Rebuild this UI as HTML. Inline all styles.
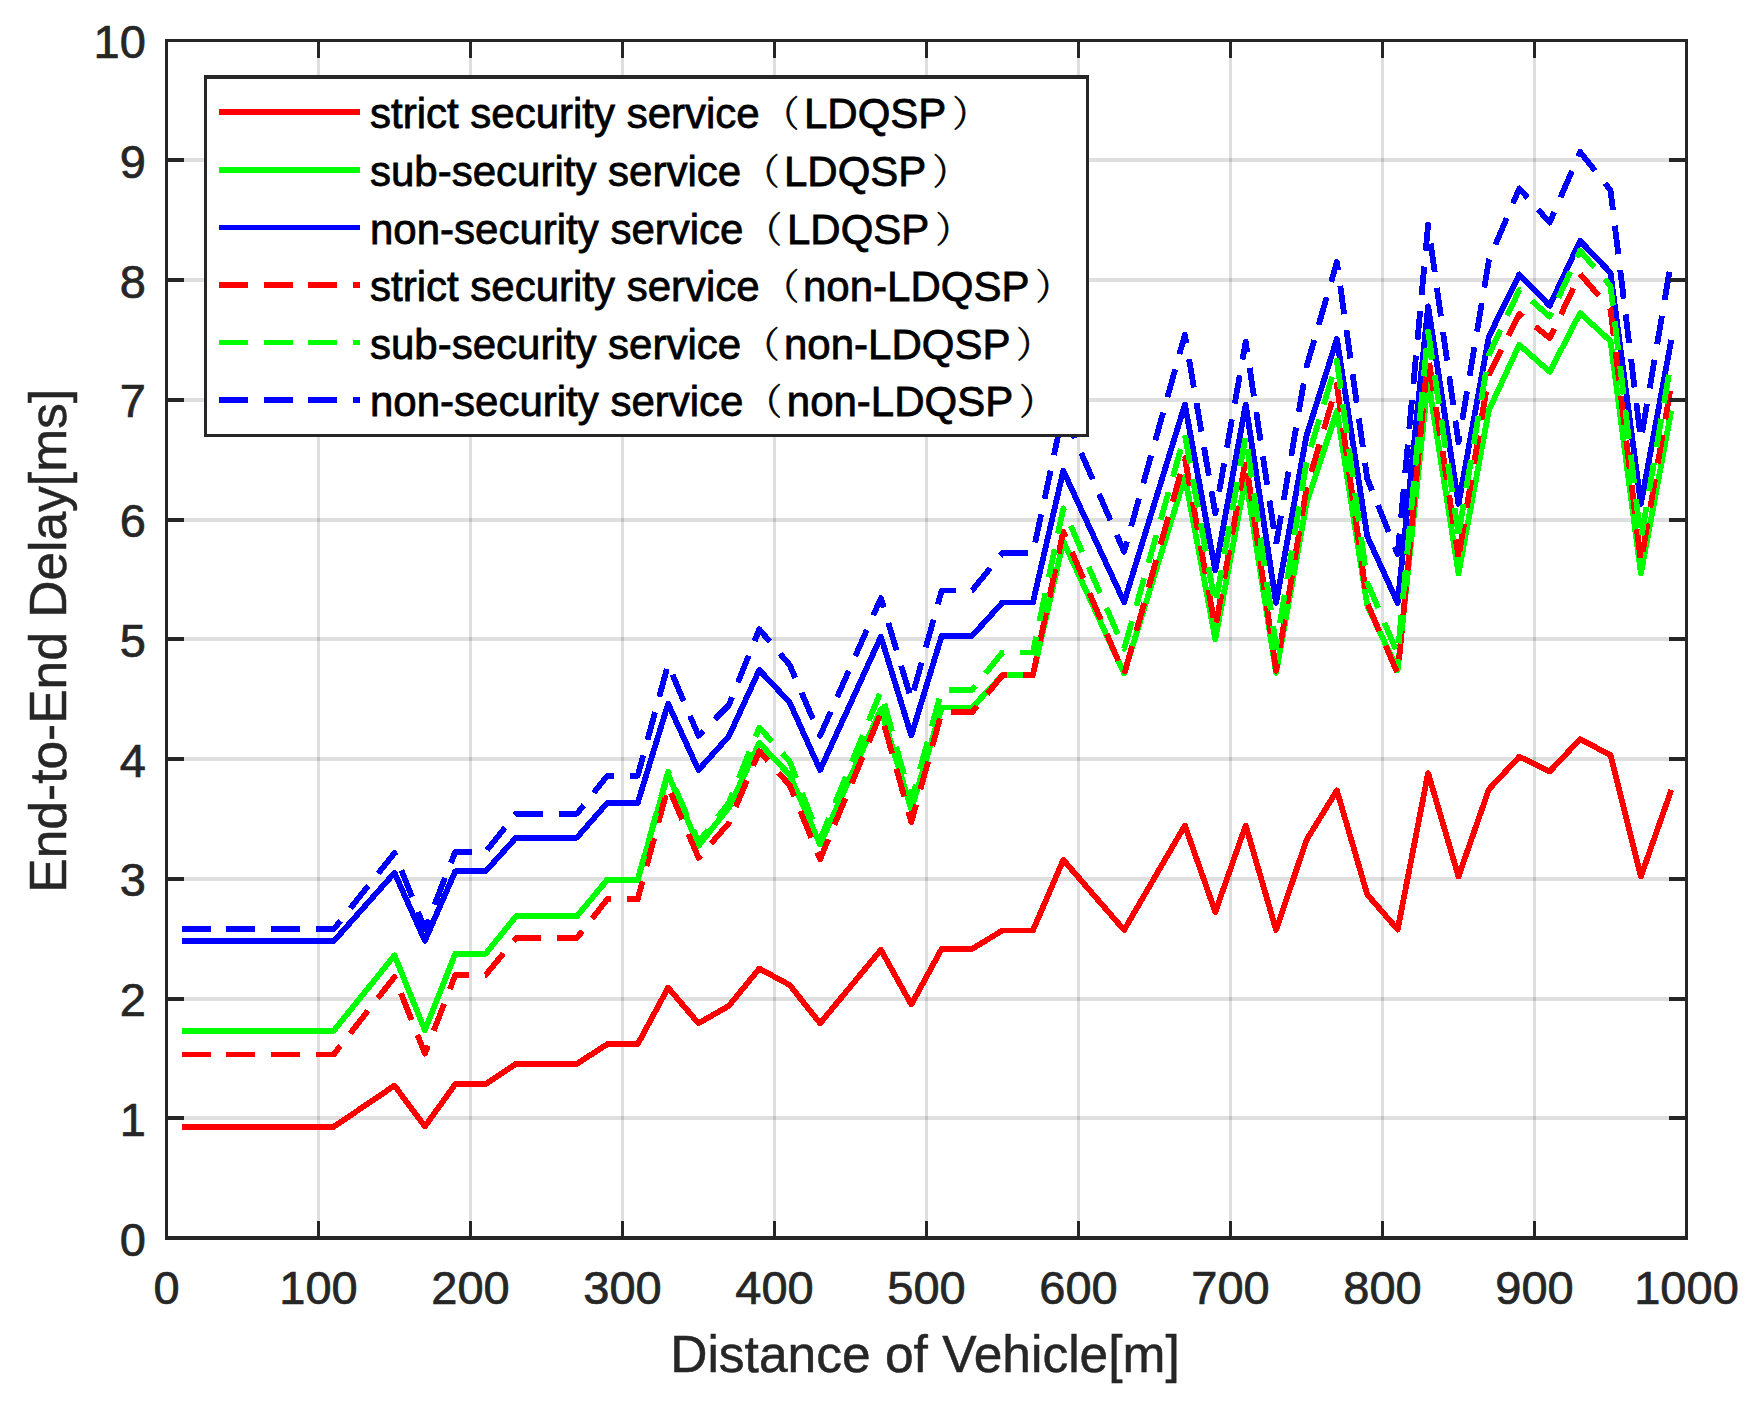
<!DOCTYPE html>
<html lang="en">
<head>
<meta charset="utf-8">
<title>End-to-End Delay vs Distance of Vehicle</title>
<style>
html,body{margin:0;padding:0;background:#fff;}
svg{display:block;}
text{font-family:"Liberation Sans","Noto Sans CJK SC",sans-serif;}
.tick{font-size:47px;fill:#262626;stroke:#262626;stroke-width:0.7px;}
.lab{font-size:51.5px;fill:#262626;stroke:#262626;stroke-width:0.5px;}
.leg{font-size:42px;fill:#000;stroke:#000;stroke-width:0.8px;}
.cjk{font-family:"Noto Serif CJK SC","Noto Sans CJK SC",serif;font-size:36px;stroke-width:0.6px;}
</style>
</head>
<body>
<svg width="1759" height="1413" viewBox="0 0 1759 1413">
<rect x="0" y="0" width="1759" height="1413" fill="#ffffff"/>
<g stroke="#262626" stroke-opacity="0.15" stroke-width="3" shape-rendering="crispEdges">
<line x1="318.5" y1="40.5" x2="318.5" y2="1238.0"/>
<line x1="470.5" y1="40.5" x2="470.5" y2="1238.0"/>
<line x1="622.5" y1="40.5" x2="622.5" y2="1238.0"/>
<line x1="774.5" y1="40.5" x2="774.5" y2="1238.0"/>
<line x1="926.5" y1="40.5" x2="926.5" y2="1238.0"/>
<line x1="1078.5" y1="40.5" x2="1078.5" y2="1238.0"/>
<line x1="1230.5" y1="40.5" x2="1230.5" y2="1238.0"/>
<line x1="1382.5" y1="40.5" x2="1382.5" y2="1238.0"/>
<line x1="1534.5" y1="40.5" x2="1534.5" y2="1238.0"/>
<line stroke-width="4" x1="166.5" y1="1118.25" x2="1686.5" y2="1118.25"/>
<line stroke-width="4" x1="166.5" y1="998.50" x2="1686.5" y2="998.50"/>
<line stroke-width="4" x1="166.5" y1="878.75" x2="1686.5" y2="878.75"/>
<line stroke-width="4" x1="166.5" y1="759.00" x2="1686.5" y2="759.00"/>
<line stroke-width="4" x1="166.5" y1="639.25" x2="1686.5" y2="639.25"/>
<line stroke-width="4" x1="166.5" y1="519.50" x2="1686.5" y2="519.50"/>
<line stroke-width="4" x1="166.5" y1="399.75" x2="1686.5" y2="399.75"/>
<line stroke-width="4" x1="166.5" y1="280.00" x2="1686.5" y2="280.00"/>
<line stroke-width="4" x1="166.5" y1="160.25" x2="1686.5" y2="160.25"/>
</g>
<g fill="none" stroke-linejoin="round" stroke-linecap="butt" shape-rendering="crispEdges">
<polyline stroke="#ff0000" stroke-width="5.8" points="181.7,1126.8 212.1,1126.8 242.5,1126.8 272.9,1126.8 303.3,1126.8 333.7,1126.8 364.1,1106.2 394.5,1085.6 424.9,1126.4 455.3,1084.2 485.7,1084.2 516.1,1063.8 546.5,1063.8 576.9,1063.8 607.3,1044.2 637.7,1044.2 668.1,987.7 698.5,1023.3 728.9,1005.8 759.3,968.6 789.7,985.0 820.1,1023.3 850.5,986.5 880.9,949.8 911.3,1004.5 941.7,948.8 972.1,948.8 1002.5,930.5 1032.9,930.5 1063.3,859.9 1093.7,895.0 1124.1,930.0 1154.5,877.7 1184.9,825.5 1215.3,912.0 1245.7,825.5 1276.1,930.0 1306.5,840.0 1336.9,790.5 1367.3,894.6 1397.7,929.5 1428.1,773.0 1458.5,876.5 1488.9,789.3 1519.3,756.7 1549.7,771.5 1580.1,739.2 1610.5,755.0 1640.9,876.5 1671.3,790.0"/>
<polyline stroke="#00ff00" stroke-width="5.8" points="181.7,1030.7 212.1,1030.7 242.5,1030.7 272.9,1030.7 303.3,1030.7 333.7,1030.7 364.1,993.1 394.5,955.4 424.9,1030.2 455.3,953.7 485.7,953.7 516.1,916.2 546.5,916.2 576.9,916.2 607.3,879.9 637.7,879.9 668.1,774.2 698.5,845.7 728.9,807.5 759.3,743.0 789.7,775.0 820.1,844.5 850.5,776.9 880.9,709.3 911.3,809.5 941.7,707.5 972.1,707.5 1002.5,675.2 1032.9,675.2 1063.3,541.4 1093.7,607.3 1124.1,673.3 1154.5,575.1 1184.9,476.9 1215.3,639.2 1245.7,477.6 1276.1,672.8 1306.5,503.2 1336.9,411.1 1367.3,605.7 1397.7,669.8 1428.1,379.4 1458.5,573.4 1488.9,410.0 1519.3,344.8 1549.7,371.8 1580.1,313.1 1610.5,341.1 1640.9,573.4 1671.3,410.5"/>
<polyline stroke="#0000ff" stroke-width="5.8" points="181.7,941.3 212.1,941.3 242.5,941.3 272.9,941.3 303.3,941.3 333.7,941.3 364.1,907.0 394.5,872.8 424.9,940.7 455.3,871.2 485.7,871.2 516.1,837.6 546.5,837.6 576.9,837.6 607.3,802.9 637.7,802.9 668.1,703.8 698.5,770.0 728.9,736.2 759.3,670.0 789.7,702.5 820.1,770.0 850.5,703.4 880.9,636.7 911.3,735.5 941.7,635.8 972.1,635.8 1002.5,602.5 1032.9,602.5 1063.3,470.8 1093.7,536.4 1124.1,602.1 1154.5,503.3 1184.9,404.5 1215.3,570.3 1245.7,404.5 1276.1,603.0 1306.5,435.7 1336.9,339.0 1367.3,536.3 1397.7,603.0 1428.1,306.3 1458.5,503.9 1488.9,336.5 1519.3,274.4 1549.7,305.7 1580.1,240.8 1610.5,272.8 1640.9,503.9 1671.3,339.9"/>
<polyline stroke="#ff0000" stroke-width="5.8" stroke-dasharray="28.8 15.9" points="181.7,1054.5 212.1,1054.5 242.5,1054.5 272.9,1054.5 303.3,1054.5 333.7,1054.5 364.1,1015.7 394.5,976.9 424.9,1053.6 455.3,975.0 485.7,975.0 516.1,938.0 546.5,938.0 576.9,938.0 607.3,899.2 637.7,899.2 668.1,786.5 698.5,857.8 728.9,823.1 759.3,751.2 789.7,785.3 820.1,859.2 850.5,786.1 880.9,713.0 911.3,822.0 941.7,712.3 972.1,712.3 1002.5,675.2 1032.9,675.2 1063.3,531.5 1093.7,603.0 1124.1,674.6 1154.5,566.4 1184.9,458.2 1215.3,628.1 1245.7,459.6 1276.1,670.9 1306.5,488.4 1336.9,384.8 1367.3,603.3 1397.7,673.6 1428.1,355.4 1458.5,557.2"/>
<polyline stroke="#ff0000" stroke-width="5.8" stroke-dasharray="28.8 15.9" stroke-dashoffset="39.5" points="1458.5,557.2 1488.9,374.6 1519.3,313.9 1549.7,338.1 1580.1,274.0 1610.5,309.2 1640.9,562.6 1671.3,384.2"/>
<polyline stroke="#00ff00" stroke-width="5.8" stroke-dasharray="28.8 15.9" points="181.7,1030.7 212.1,1030.7 242.5,1030.7 272.9,1030.7 303.3,1030.7 333.7,1030.7 364.1,993.1 394.5,955.4 424.9,1030.2 455.3,953.7 485.7,953.7 516.1,916.2 546.5,916.2 576.9,916.2 607.3,879.5 637.7,879.5 668.1,771.8 698.5,842.1 728.9,802.7 759.3,727.5 789.7,761.5 820.1,839.7 850.5,765.5 880.9,691.2 911.3,801.2 941.7,690.0 972.1,690.0 1002.5,652.4 1032.9,652.4 1063.3,508.4 1093.7,578.6 1124.1,648.8 1154.5,541.7 1184.9,434.5 1215.3,604.8 1245.7,435.7 1276.1,646.7 1306.5,461.9 1336.9,360.8 1367.3,582.4 1397.7,654.0 1428.1,331.5 1458.5,533.9"/>
<polyline stroke="#00ff00" stroke-width="5.8" stroke-dasharray="28.8 15.9" stroke-dashoffset="43.2" points="1458.5,533.9 1488.9,354.7 1519.3,289.9 1549.7,316.6 1580.1,250.8 1610.5,286.0 1640.9,539.4 1671.3,360.2"/>
<polyline stroke="#0000ff" stroke-width="5.8" stroke-dasharray="28.8 15.9" points="181.7,929.3 212.1,929.3 242.5,929.3 272.9,929.3 303.3,929.3 333.7,929.3 364.1,891.1 394.5,853.0 424.9,929.0 455.3,851.8 485.7,851.8 516.1,813.7 546.5,813.7 576.9,813.7 607.3,775.8 637.7,775.8 668.1,664.4 698.5,735.8 728.9,705.1 759.3,629.3 789.7,665.0 820.1,735.8 850.5,666.9 880.9,598.1 911.3,699.5 941.7,590.5 972.1,590.5 1002.5,553.0 1032.9,553.0 1063.3,411.7 1093.7,481.7 1124.1,551.7 1154.5,443.3 1184.9,334.8 1215.3,513.5 1245.7,341.7 1276.1,544.4 1306.5,366.8 1336.9,262.0 1367.3,478.8 1397.7,554.2 1428.1,224.9 1458.5,442.3 1488.9,260.0 1519.3,188.4 1549.7,222.6 1580.1,152.0 1610.5,190.2 1640.9,439.9 1671.3,260.8"/>
</g>
<g stroke="#262626" stroke-width="3" shape-rendering="crispEdges">
<line x1="318.5" y1="1238.0" x2="318.5" y2="1220.5"/>
<line x1="318.5" y1="40.5" x2="318.5" y2="58.0"/>
<line x1="470.5" y1="1238.0" x2="470.5" y2="1220.5"/>
<line x1="470.5" y1="40.5" x2="470.5" y2="58.0"/>
<line x1="622.5" y1="1238.0" x2="622.5" y2="1220.5"/>
<line x1="622.5" y1="40.5" x2="622.5" y2="58.0"/>
<line x1="774.5" y1="1238.0" x2="774.5" y2="1220.5"/>
<line x1="774.5" y1="40.5" x2="774.5" y2="58.0"/>
<line x1="926.5" y1="1238.0" x2="926.5" y2="1220.5"/>
<line x1="926.5" y1="40.5" x2="926.5" y2="58.0"/>
<line x1="1078.5" y1="1238.0" x2="1078.5" y2="1220.5"/>
<line x1="1078.5" y1="40.5" x2="1078.5" y2="58.0"/>
<line x1="1230.5" y1="1238.0" x2="1230.5" y2="1220.5"/>
<line x1="1230.5" y1="40.5" x2="1230.5" y2="58.0"/>
<line x1="1382.5" y1="1238.0" x2="1382.5" y2="1220.5"/>
<line x1="1382.5" y1="40.5" x2="1382.5" y2="58.0"/>
<line x1="1534.5" y1="1238.0" x2="1534.5" y2="1220.5"/>
<line x1="1534.5" y1="40.5" x2="1534.5" y2="58.0"/>
<line stroke-width="4" x1="166.5" y1="1118.25" x2="184.0" y2="1118.25"/>
<line stroke-width="4" x1="1686.5" y1="1118.25" x2="1669.0" y2="1118.25"/>
<line stroke-width="4" x1="166.5" y1="998.50" x2="184.0" y2="998.50"/>
<line stroke-width="4" x1="1686.5" y1="998.50" x2="1669.0" y2="998.50"/>
<line stroke-width="4" x1="166.5" y1="878.75" x2="184.0" y2="878.75"/>
<line stroke-width="4" x1="1686.5" y1="878.75" x2="1669.0" y2="878.75"/>
<line stroke-width="4" x1="166.5" y1="759.00" x2="184.0" y2="759.00"/>
<line stroke-width="4" x1="1686.5" y1="759.00" x2="1669.0" y2="759.00"/>
<line stroke-width="4" x1="166.5" y1="639.25" x2="184.0" y2="639.25"/>
<line stroke-width="4" x1="1686.5" y1="639.25" x2="1669.0" y2="639.25"/>
<line stroke-width="4" x1="166.5" y1="519.50" x2="184.0" y2="519.50"/>
<line stroke-width="4" x1="1686.5" y1="519.50" x2="1669.0" y2="519.50"/>
<line stroke-width="4" x1="166.5" y1="399.75" x2="184.0" y2="399.75"/>
<line stroke-width="4" x1="1686.5" y1="399.75" x2="1669.0" y2="399.75"/>
<line stroke-width="4" x1="166.5" y1="280.00" x2="184.0" y2="280.00"/>
<line stroke-width="4" x1="1686.5" y1="280.00" x2="1669.0" y2="280.00"/>
<line stroke-width="4" x1="166.5" y1="160.25" x2="184.0" y2="160.25"/>
<line stroke-width="4" x1="1686.5" y1="160.25" x2="1669.0" y2="160.25"/>
</g>
<g fill="#262626" shape-rendering="crispEdges">
<rect x="165" y="39" width="3" height="1201"/>
<rect x="1685" y="39" width="3" height="1201"/>
<rect x="165" y="39" width="1523" height="3"/>
<rect x="165" y="1236" width="1523" height="4"/>
</g>
<g class="tick" text-anchor="middle">
<text x="166.5" y="1303.5">0</text>
<text x="318.5" y="1303.5">100</text>
<text x="470.5" y="1303.5">200</text>
<text x="622.5" y="1303.5">300</text>
<text x="774.5" y="1303.5">400</text>
<text x="926.5" y="1303.5">500</text>
<text x="1078.5" y="1303.5">600</text>
<text x="1230.5" y="1303.5">700</text>
<text x="1382.5" y="1303.5">800</text>
<text x="1534.5" y="1303.5">900</text>
<text x="1686.5" y="1303.5">1000</text>
</g>
<g class="tick" text-anchor="end">
<text x="145.8" y="1255.6">0</text>
<text x="145.8" y="1135.8">1</text>
<text x="145.8" y="1016.1">2</text>
<text x="145.8" y="896.4">3</text>
<text x="145.8" y="776.6">4</text>
<text x="145.8" y="656.9">5</text>
<text x="145.8" y="537.1">6</text>
<text x="145.8" y="417.4">7</text>
<text x="145.8" y="297.6">8</text>
<text x="145.8" y="177.8">9</text>
<text x="145.8" y="58.1">10</text>
</g>
<text class="lab" text-anchor="middle" x="925" y="1371.6">Distance of Vehicle[m]</text>
<text class="lab" text-anchor="middle" transform="translate(66.1 640.75) rotate(-90)">End-to-End Delay[ms]</text>
<rect x="204" y="75" width="885" height="362" fill="#ffffff"/>
<g fill="#262626" shape-rendering="crispEdges">
<rect x="204" y="75" width="3" height="362"/>
<rect x="1086" y="75" width="3" height="362"/>
<rect x="204" y="75" width="885" height="4"/>
<rect x="204" y="434" width="885" height="3"/>
</g>
<line x1="219" y1="112.0" x2="360" y2="112.0" stroke="#ff0000" stroke-width="6" shape-rendering="crispEdges"/>
<text class="leg" x="370" y="128.0">strict security service<tspan class="cjk" x="763.2" y="127.0">（</tspan><tspan x="804.0" y="128.0">LDQSP</tspan><tspan class="cjk" x="952.4" y="127.0">）</tspan></text>
<line x1="219" y1="170.0" x2="360" y2="170.0" stroke="#00ff00" stroke-width="6" shape-rendering="crispEdges"/>
<text class="leg" x="370" y="186.0">sub-security service<tspan class="cjk" x="743.5" y="185.0">（</tspan><tspan x="784.0" y="186.0">LDQSP</tspan><tspan class="cjk" x="932.5" y="185.0">）</tspan></text>
<line x1="219" y1="227.5" x2="360" y2="227.5" stroke="#0000ff" stroke-width="5" shape-rendering="crispEdges"/>
<text class="leg" x="370" y="243.5">non-security service<tspan class="cjk" x="745.9" y="242.5">（</tspan><tspan x="787.0" y="243.5">LDQSP</tspan><tspan class="cjk" x="935.4" y="242.5">）</tspan></text>
<line x1="219" y1="285.0" x2="360" y2="285.0" stroke="#ff0000" stroke-width="6" stroke-dasharray="28.8 15.9" shape-rendering="crispEdges"/>
<text class="leg" x="370" y="301.0">strict security service<tspan class="cjk" x="763.2" y="300.0">（</tspan><tspan x="803.0" y="301.0">non-LDQSP</tspan><tspan class="cjk" x="1035.5" y="300.0">）</tspan></text>
<line x1="219" y1="342.5" x2="360" y2="342.5" stroke="#00ff00" stroke-width="5" stroke-dasharray="28.8 15.9" shape-rendering="crispEdges"/>
<text class="leg" x="370" y="358.5">sub-security service<tspan class="cjk" x="743.5" y="357.5">（</tspan><tspan x="784.0" y="358.5">non-LDQSP</tspan><tspan class="cjk" x="1016.2" y="357.5">）</tspan></text>
<line x1="219" y1="400.0" x2="360" y2="400.0" stroke="#0000ff" stroke-width="6" stroke-dasharray="28.8 15.9" shape-rendering="crispEdges"/>
<text class="leg" x="370" y="416.0">non-security service<tspan class="cjk" x="745.9" y="415.0">（</tspan><tspan x="786.8" y="416.0">non-LDQSP</tspan><tspan class="cjk" x="1019.2" y="415.0">）</tspan></text>
</svg>
</body>
</html>
